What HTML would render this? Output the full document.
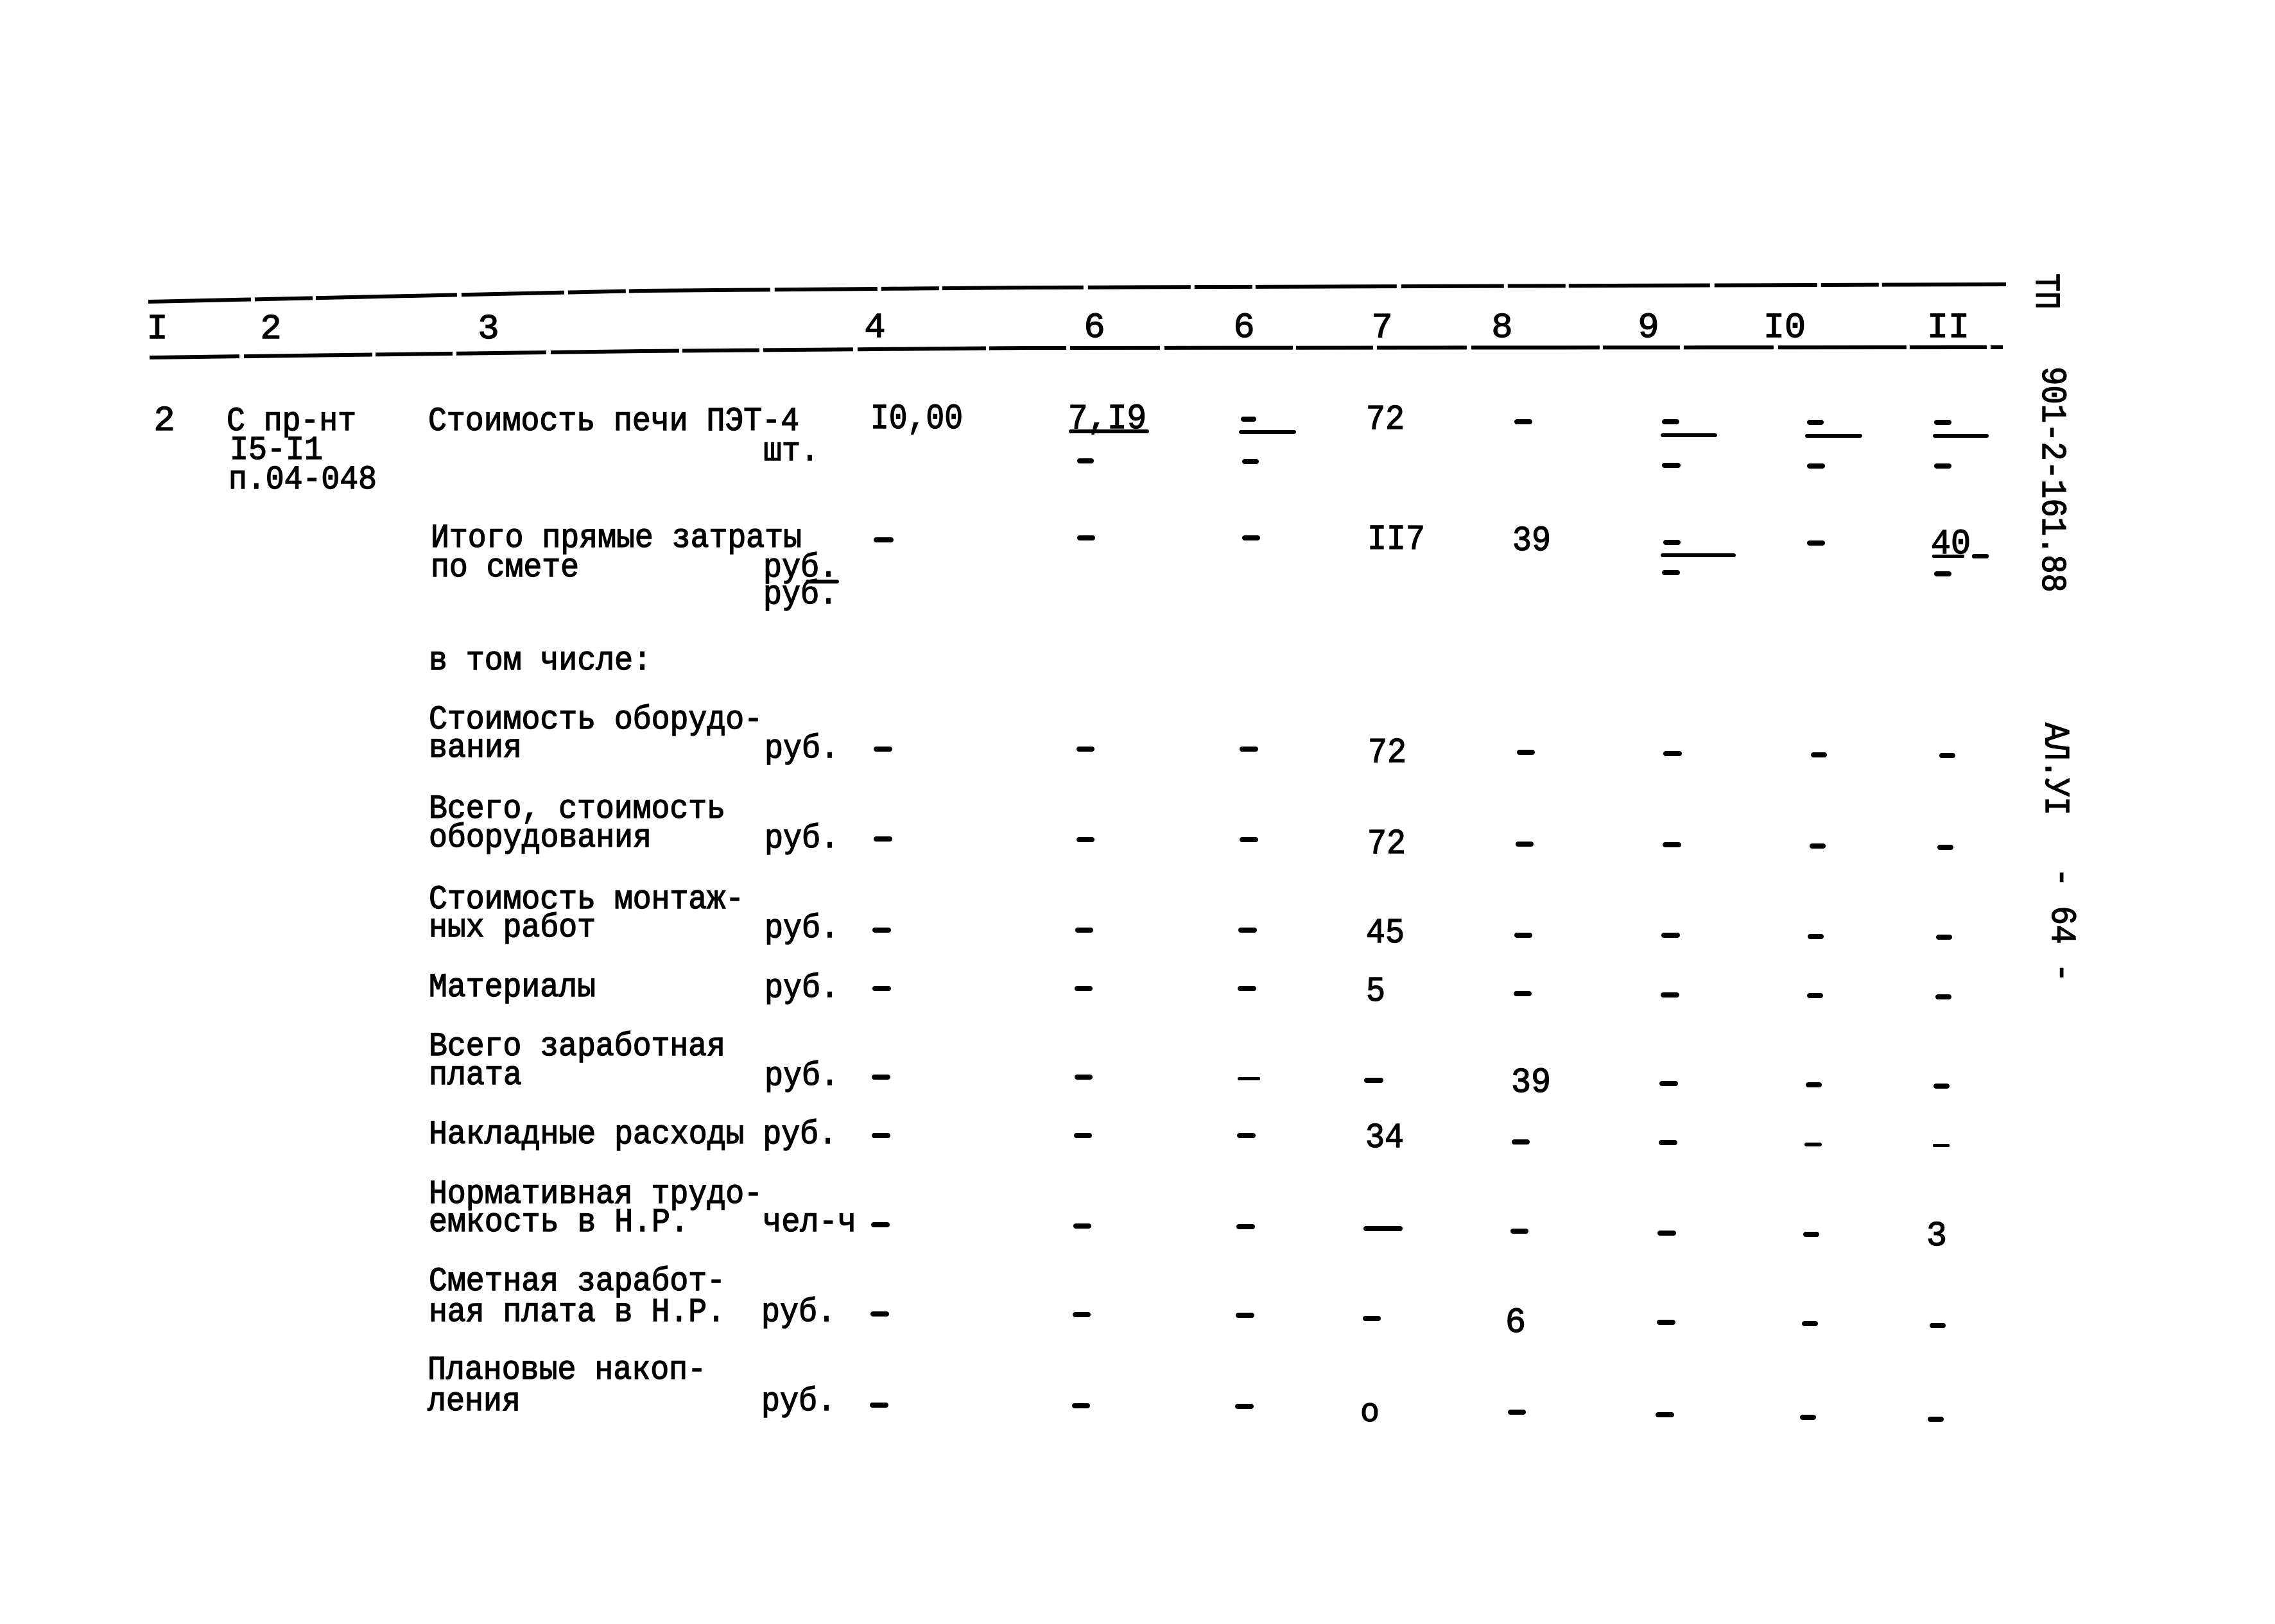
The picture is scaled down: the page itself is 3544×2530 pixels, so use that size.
<!DOCTYPE html>
<html>
<head>
<meta charset="utf-8">
<style>
html,body{margin:0;padding:0;background:#fff;}
svg{display:block;}
text{font-family:"Liberation Mono","DejaVu Sans Mono",monospace;fill:#000;stroke:#000;stroke-width:1.4px;}
.t{font-size:52px;}
.n{font-size:55px;}
.d{fill:#000;stroke:none;}
</style>
</head>
<body>
<svg width="3544" height="2530" viewBox="0 0 3544 2530" xmlns="http://www.w3.org/2000/svg">
<rect width="3544" height="2530" fill="#fff"/>

<!-- header rules -->
<polyline points="231,470 1000,453 1600,448 3125,443" fill="none" stroke="#000" stroke-width="6" stroke-dasharray="160,6,90,5,220,7"/>
<polyline points="233,557 1000,547 1600,542 3120,541" fill="none" stroke="#000" stroke-width="6" stroke-dasharray="140,7,200,5,120,6"/>

<!-- header numbers -->
<g class="n" text-anchor="middle">
<text class="n" x="245" y="527">I</text>
<text class="n" x="422" y="527">2</text>
<text class="n" x="761" y="527">3</text>
<text class="n" x="1363" y="525">4</text>
<text class="n" x="1705" y="525">6</text>
<text class="n" x="1938" y="525">6</text>
<text class="n" x="2153" y="525">7</text>
<text class="n" x="2340" y="525">8</text>
<text class="n" x="2568" y="525">9</text>
<text class="n" x="2780" y="525">I0</text>
<text class="n" x="3035" y="525">II</text>
</g>

<!-- row 1 -->
<text class="n" x="256" y="670" text-anchor="middle">2</text>
<text class="t" x="353" y="670" textLength="202" lengthAdjust="spacingAndGlyphs">С пр-нт</text>
<text class="t" x="358" y="715" textLength="145" lengthAdjust="spacingAndGlyphs">I5-I1</text>
<text class="t" x="356" y="761" textLength="231" lengthAdjust="spacingAndGlyphs">п.04-048</text>
<text class="t" x="667" y="670" textLength="578" lengthAdjust="spacingAndGlyphs">Стоимость печи ПЭТ-4</text>
<text class="t" x="1189" y="717" textLength="87" lengthAdjust="spacingAndGlyphs">шт.</text>
<text class="n" x="1356" y="667" textLength="144" lengthAdjust="spacingAndGlyphs">I0,00</text>
<text class="n" x="1664" y="667" textLength="122" lengthAdjust="spacingAndGlyphs">7,I9</text>
<rect class="d" x="1665" y="669" width="125" height="6" rx="3"/>
<text class="n" x="2128" y="668" textLength="60" lengthAdjust="spacingAndGlyphs">72</text>

<!-- row 2 -->
<text class="t" x="671" y="852" textLength="578" lengthAdjust="spacingAndGlyphs">Итого прямые затраты</text>
<text class="t" x="671" y="898" textLength="231" lengthAdjust="spacingAndGlyphs">по смете</text>
<text class="t" x="1189" y="898" textLength="116" lengthAdjust="spacingAndGlyphs">руб.</text>
<rect class="d" x="1255" y="903" width="52" height="6" rx="3"/>
<text class="t" x="1189" y="940" textLength="116" lengthAdjust="spacingAndGlyphs">руб.</text>
<text class="n" x="2130" y="855" textLength="90" lengthAdjust="spacingAndGlyphs">II7</text>
<text class="n" x="2356" y="857" textLength="60" lengthAdjust="spacingAndGlyphs">39</text>
<text class="n" x="3008" y="862" textLength="62" lengthAdjust="spacingAndGlyphs">40</text>
<rect class="d" x="3010" y="864" width="50" height="5" rx="2"/>
<rect class="d" x="3072" y="863" width="26" height="7" rx="3"/>

<text class="t" x="668" y="1043" textLength="347" lengthAdjust="spacingAndGlyphs">в том числе:</text>

<!-- R3 -->
<text class="t" x="668" y="1135" textLength="520" lengthAdjust="spacingAndGlyphs">Стоимость оборудо-</text>
<text class="t" x="668" y="1179" textLength="145" lengthAdjust="spacingAndGlyphs">вания</text>
<text class="t" x="1191" y="1180" textLength="116" lengthAdjust="spacingAndGlyphs">руб.</text>
<text class="n" x="2131" y="1187" textLength="60" lengthAdjust="spacingAndGlyphs">72</text>

<!-- R4 -->
<text class="t" x="668" y="1274" textLength="462" lengthAdjust="spacingAndGlyphs">Всего, стоимость</text>
<text class="t" x="668" y="1319" textLength="347" lengthAdjust="spacingAndGlyphs">оборудования</text>
<text class="t" x="1191" y="1320" textLength="116" lengthAdjust="spacingAndGlyphs">руб.</text>
<text class="n" x="2130" y="1329" textLength="60" lengthAdjust="spacingAndGlyphs">72</text>

<!-- R5 -->
<text class="t" x="668" y="1415" textLength="491" lengthAdjust="spacingAndGlyphs">Стоимость монтаж-</text>
<text class="t" x="668" y="1459" textLength="260" lengthAdjust="spacingAndGlyphs">ных работ</text>
<text class="t" x="1191" y="1460" textLength="116" lengthAdjust="spacingAndGlyphs">руб.</text>
<text class="n" x="2128" y="1468" textLength="60" lengthAdjust="spacingAndGlyphs">45</text>

<!-- R6 -->
<text class="t" x="668" y="1552" textLength="260" lengthAdjust="spacingAndGlyphs">Материалы</text>
<text class="t" x="1191" y="1553" textLength="116" lengthAdjust="spacingAndGlyphs">руб.</text>
<text class="n" x="2128" y="1559" textLength="30" lengthAdjust="spacingAndGlyphs">5</text>

<!-- R7 -->
<text class="t" x="668" y="1644" textLength="462" lengthAdjust="spacingAndGlyphs">Всего заработная</text>
<text class="t" x="668" y="1689" textLength="145" lengthAdjust="spacingAndGlyphs">плата</text>
<text class="t" x="1191" y="1690" textLength="116" lengthAdjust="spacingAndGlyphs">руб.</text>
<text class="n" x="2354" y="1701" textLength="62" lengthAdjust="spacingAndGlyphs">39</text>

<!-- R8 -->
<text class="t" x="668" y="1781" textLength="636" lengthAdjust="spacingAndGlyphs">Накладные расходы руб.</text>
<text class="n" x="2127" y="1787" textLength="60" lengthAdjust="spacingAndGlyphs">34</text>

<!-- R9 -->
<text class="t" x="668" y="1874" textLength="520" lengthAdjust="spacingAndGlyphs">Нормативная трудо-</text>
<text class="t" x="668" y="1918" textLength="405" lengthAdjust="spacingAndGlyphs">емкость в Н.Р.</text>
<text class="t" x="1188" y="1918" textLength="146" lengthAdjust="spacingAndGlyphs">чел-ч</text>
<text class="n" x="3001" y="1940" textLength="32" lengthAdjust="spacingAndGlyphs">3</text>

<!-- R10 -->
<text class="t" x="668" y="2010" textLength="462" lengthAdjust="spacingAndGlyphs">Сметная заработ-</text>
<text class="t" x="668" y="2058" textLength="462" lengthAdjust="spacingAndGlyphs">ная плата в Н.Р.</text>
<text class="t" x="1186" y="2058" textLength="116" lengthAdjust="spacingAndGlyphs">руб.</text>
<text class="n" x="2345" y="2075" textLength="32" lengthAdjust="spacingAndGlyphs">6</text>

<!-- R11 -->
<text class="t" x="666" y="2148" textLength="434" lengthAdjust="spacingAndGlyphs">Плановые накоп-</text>
<text class="t" x="666" y="2197" textLength="145" lengthAdjust="spacingAndGlyphs">ления</text>
<text class="t" x="1186" y="2197" textLength="116" lengthAdjust="spacingAndGlyphs">руб.</text>
<text class="t" x="2119" y="2214" textLength="30" lengthAdjust="spacingAndGlyphs">о</text>

<!-- dashes -->
<g class="d">
<!-- row1 -->
<rect x="1678" y="714" width="26" height="8" rx="4"/>
<rect x="1933" y="649" width="24" height="8" rx="4"/>
<rect x="1930" y="670" width="89" height="6" rx="3"/>
<rect x="1935" y="715" width="26" height="8" rx="4"/>
<rect x="2359" y="653" width="28" height="8" rx="4"/>
<rect x="2589" y="653" width="27" height="8" rx="4"/>
<rect x="2587" y="675" width="88" height="6" rx="3"/>
<rect x="2589" y="721" width="29" height="8" rx="4"/>
<rect x="2815" y="654" width="26" height="8" rx="4"/>
<rect x="2812" y="676" width="89" height="6" rx="3"/>
<rect x="2815" y="722" width="28" height="8" rx="4"/>
<rect x="3013" y="654" width="27" height="8" rx="4"/>
<rect x="3011" y="676" width="87" height="6" rx="3"/>
<rect x="3013" y="722" width="27" height="8" rx="4"/>
<!-- row2 -->
<rect x="1361" y="837" width="31" height="8" rx="4"/>
<rect x="1678" y="834" width="28" height="8" rx="4"/>
<rect x="1935" y="834" width="28" height="8" rx="4"/>
<rect x="2591" y="841" width="27" height="8" rx="4"/>
<rect x="2587" y="862" width="117" height="6" rx="3"/>
<rect x="2589" y="888" width="28" height="8" rx="4"/>
<rect x="2815" y="842" width="28" height="8" rx="4"/>
<rect x="3013" y="890" width="27" height="8" rx="4"/>
<!-- R3 -->
<rect x="1361" y="1163" width="29" height="8" rx="4"/>
<rect x="1677" y="1163" width="28" height="8" rx="4"/>
<rect x="1931" y="1163" width="29" height="8" rx="4"/>
<rect x="2363" y="1168" width="28" height="8" rx="4"/>
<rect x="2591" y="1170" width="29" height="8" rx="4"/>
<rect x="2821" y="1172" width="25" height="8" rx="4"/>
<rect x="3021" y="1173" width="25" height="8" rx="4"/>
<!-- R4 -->
<rect x="1361" y="1303" width="29" height="8" rx="4"/>
<rect x="1677" y="1304" width="28" height="8" rx="4"/>
<rect x="1931" y="1304" width="29" height="8" rx="4"/>
<rect x="2361" y="1311" width="28" height="8" rx="4"/>
<rect x="2590" y="1312" width="29" height="8" rx="4"/>
<rect x="2819" y="1314" width="25" height="8" rx="4"/>
<rect x="3018" y="1316" width="25" height="8" rx="4"/>
<!-- R5 -->
<rect x="1359" y="1445" width="29" height="8" rx="4"/>
<rect x="1675" y="1445" width="28" height="8" rx="4"/>
<rect x="1929" y="1445" width="29" height="8" rx="4"/>
<rect x="2359" y="1453" width="28" height="8" rx="4"/>
<rect x="2588" y="1453" width="29" height="8" rx="4"/>
<rect x="2816" y="1455" width="25" height="8" rx="4"/>
<rect x="3016" y="1456" width="25" height="8" rx="4"/>
<!-- R6 -->
<rect x="1359" y="1536" width="29" height="8" rx="4"/>
<rect x="1674" y="1536" width="28" height="8" rx="4"/>
<rect x="1928" y="1536" width="29" height="8" rx="4"/>
<rect x="2358" y="1544" width="28" height="8" rx="4"/>
<rect x="2587" y="1546" width="29" height="8" rx="4"/>
<rect x="2815" y="1547" width="25" height="8" rx="4"/>
<rect x="3015" y="1549" width="25" height="8" rx="4"/>
<!-- R7 -->
<rect x="1358" y="1674" width="29" height="8" rx="4"/>
<rect x="1674" y="1674" width="28" height="8" rx="4"/>
<rect x="1928" y="1678" width="35" height="5" rx="2"/>
<rect x="2125" y="1679" width="30" height="8" rx="4"/>
<rect x="2585" y="1684" width="29" height="8" rx="4"/>
<rect x="2813" y="1686" width="25" height="8" rx="4"/>
<rect x="3012" y="1688" width="25" height="8" rx="4"/>
<!-- R8 -->
<rect x="1358" y="1765" width="29" height="8" rx="4"/>
<rect x="1673" y="1765" width="28" height="8" rx="4"/>
<rect x="1927" y="1765" width="29" height="8" rx="4"/>
<rect x="2355" y="1775" width="28" height="8" rx="4"/>
<rect x="2584" y="1776" width="29" height="8" rx="4"/>
<rect x="2811" y="1780" width="27" height="6" rx="3"/>
<rect x="3011" y="1782" width="26" height="5" rx="2"/>
<!-- R9 -->
<rect x="1357" y="1904" width="29" height="8" rx="4"/>
<rect x="1672" y="1906" width="28" height="8" rx="4"/>
<rect x="1926" y="1907" width="29" height="8" rx="4"/>
<rect x="2124" y="1910" width="61" height="8" rx="4"/>
<rect x="2353" y="1914" width="28" height="8" rx="4"/>
<rect x="2582" y="1917" width="29" height="8" rx="4"/>
<rect x="2809" y="1919" width="25" height="8" rx="4"/>
<!-- R10 -->
<rect x="1356" y="2043" width="29" height="8" rx="4"/>
<rect x="1671" y="2044" width="28" height="8" rx="4"/>
<rect x="1925" y="2045" width="29" height="8" rx="4"/>
<rect x="2123" y="2050" width="28" height="8" rx="4"/>
<rect x="2581" y="2056" width="29" height="8" rx="4"/>
<rect x="2807" y="2058" width="25" height="8" rx="4"/>
<rect x="3006" y="2061" width="25" height="8" rx="4"/>
<!-- R11 -->
<rect x="1355" y="2185" width="29" height="8" rx="4"/>
<rect x="1670" y="2186" width="28" height="8" rx="4"/>
<rect x="1924" y="2187" width="29" height="8" rx="4"/>
<rect x="2349" y="2196" width="28" height="8" rx="4"/>
<rect x="2579" y="2200" width="29" height="8" rx="4"/>
<rect x="2804" y="2204" width="25" height="8" rx="4"/>
<rect x="3003" y="2207" width="25" height="8" rx="4"/>
</g>

<!-- vertical margin text -->
<text class="n" transform="translate(3172,426) rotate(90)" x="0" y="0" textLength="56" lengthAdjust="spacingAndGlyphs">ТП</text>
<text class="n" transform="translate(3182,571) rotate(90)" x="0" y="0" textLength="352" lengthAdjust="spacingAndGlyphs">901-2-161.88</text>
<text class="n" transform="translate(3187,1126) rotate(90)" x="0" y="0" textLength="144" lengthAdjust="spacingAndGlyphs">АЛ.УI</text>
<text class="n" transform="translate(3197,1352) rotate(90)" x="0" y="0" textLength="178" lengthAdjust="spacingAndGlyphs">- 64 -</text>
</svg>
</body>
</html>
